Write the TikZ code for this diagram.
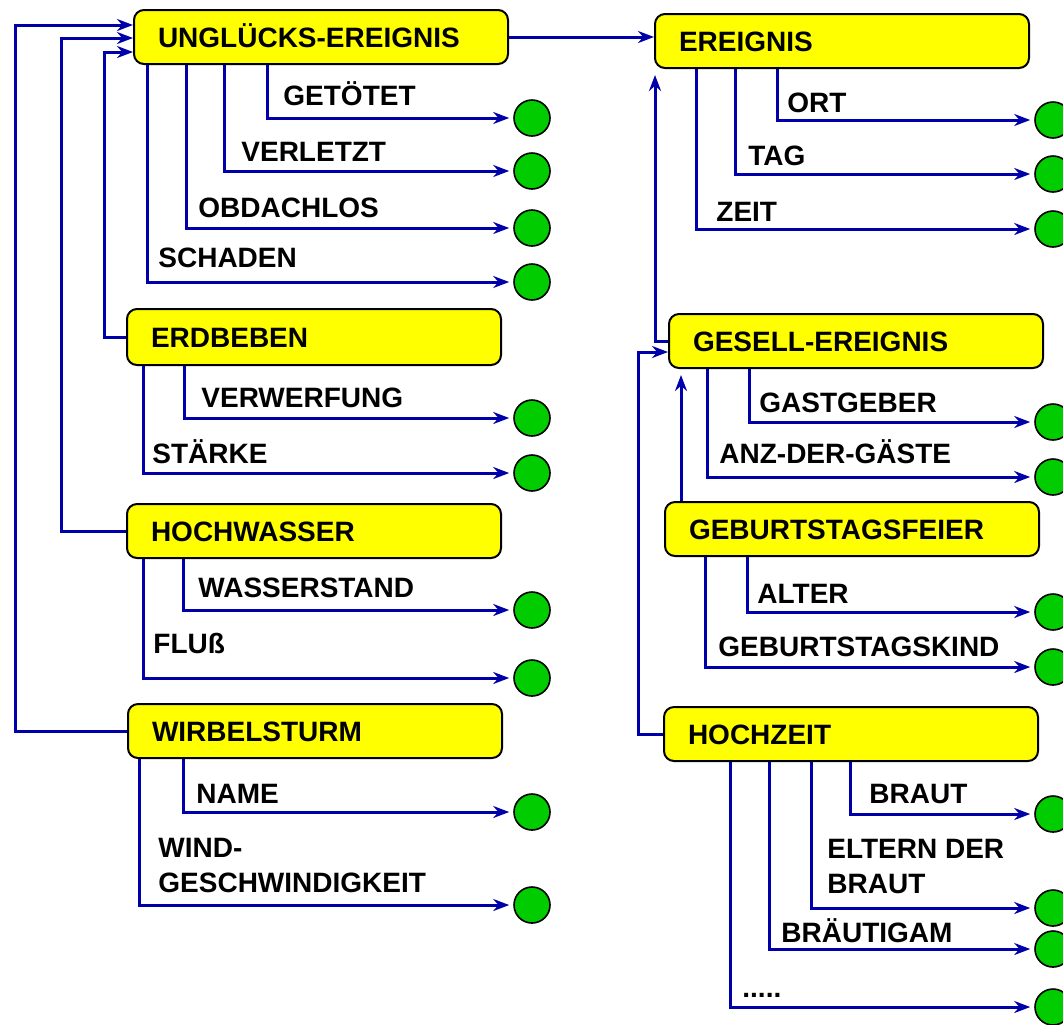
\documentclass[tikz,border=0pt]{standalone}
\usepackage{fontspec}
\setmainfont{Liberation Sans}
\usepackage{tikz}
\usetikzlibrary{arrows.meta,positioning,calc}
\definecolor{entyellow}{HTML}{FFFF00}
\definecolor{attgreen}{HTML}{00CC00}
\definecolor{lnkblue}{HTML}{0000AA}
\tikzset{
  ent/.style={draw, fill=entyellow, line width=1pt, rounded corners=5pt, anchor=north west,
    minimum width=187pt, minimum height=27pt, text width=163pt, inner xsep=12pt, align=left,
    text height=10pt, text depth=0pt, font=\bfseries\fontsize{14}{17.5}\selectfont},
  att/.style={draw, circle, fill=attgreen, line width=0.8pt, minimum size=18pt, inner sep=0pt},
  lbl/.style={anchor=base west, inner sep=0pt, align=left, font=\bfseries\fontsize{14}{17.5}\selectfont},
  lnk/.style={draw=lnkblue, line width=1.5pt, -{Stealth[length=8pt,width=6pt]}, shorten >=2pt},
  isa/.style={draw=lnkblue, line width=1.5pt, -{Stealth[length=8pt,width=6pt]}}
}
\begin{document}
\begin{tikzpicture}[x=0.5pt,y=-0.5pt]
\clip (0,0) rectangle (1063,1024);
% entity types
\node[ent, minimum height=27pt] (unglueck) at (133,9) {UNGLÜCKS-EREIGNIS};
\node[ent] (ereignis) at (654,13) {EREIGNIS};
\node[ent, minimum height=28pt] (erdbeben) at (126,308) {ERDBEBEN};
\node[ent] (hochwasser) at (126,503) {HOCHWASSER};
\node[ent] (wirbelsturm) at (127,703) {WIRBELSTURM};
\node[ent] (gesell) at (668,313) {GESELL-EREIGNIS};
\node[ent] (geburtstag) at (664,501) {GEBURTSTAGSFEIER};
\node[ent] (hochzeit) at (663,706) {HOCHZEIT};
% attribute values, left column
\node[att] (u1) at (532,118) {}; \node[att] (u2) at (532,171) {};
\node[att] (u3) at (532,228) {}; \node[att] (u4) at (532,282) {};
\node[att] (e1) at (532,418) {}; \node[att] (e2) at (532,473) {};
\node[att] (h1) at (532,610) {}; \node[att] (h2) at (532,678) {};
\node[att] (w1) at (532,812) {}; \node[att] (w2) at (532,905) {};
% attribute values, right column
\node[att] (r1) at (1053,120) {}; \node[att] (r2) at (1053,174) {}; \node[att] (r3) at (1053,229) {};
\node[att] (g1) at (1053,422) {}; \node[att] (g2) at (1053,477) {};
\node[att] (b1) at (1053,612) {}; \node[att] (b2) at (1053,667) {};
\node[att] (z1) at (1053,814) {}; \node[att] (z2) at (1053,908) {};
\node[att] (z3) at (1053,949) {}; \node[att] (z4) at (1053,1007) {};
% attribute names
\node[lbl] (l-getoetet) at (283,105) {GETÖTET};
\node[lbl] (l-verletzt) at (241,161) {VERLETZT};
\node[lbl] (l-obdach) at (198,217) {OBDACHLOS};
\node[lbl] (l-schaden) at (158,267) {SCHADEN};
\node[lbl] (l-verwerf) at (201,407) {VERWERFUNG};
\node[lbl] (l-staerke) at (152,463) {STÄRKE};
\node[lbl] (l-wstand) at (198,597) {WASSERSTAND};
\node[lbl] (l-fluss) at (153,653) {FLUß};
\node[lbl] (l-name) at (196,803) {NAME};
\node[lbl] (l-wind) at (158,892) {WIND-\\GESCHWINDIGKEIT};
\node[lbl] (l-ort) at (787,112) {ORT};
\node[lbl] (l-tag) at (748,165) {TAG};
\node[lbl] (l-zeit) at (716,221) {ZEIT};
\node[lbl] (l-gastgeber) at (759,412) {GASTGEBER};
\node[lbl] (l-anzahl) at (719,463) {ANZ-DER-GÄSTE};
\node[lbl] (l-alter) at (757,603) {ALTER};
\node[lbl] (l-kind) at (718,656) {GEBURTSTAGSKIND};
\node[lbl] (l-braut) at (869,803) {BRAUT};
\node[lbl] (l-eltern) at (827,893) {ELTERN DER\\BRAUT};
\node[lbl] (l-braeut) at (781,942) {BRÄUTIGAM};
\node[lbl] (l-mehr) at (742,997) {.....};
% attributes
\draw[lnk] ($(unglueck.south west)+(134,0)$) |- (u1);
\draw[lnk] ($(unglueck.south west)+(91,0)$) |- (u2);
\draw[lnk] ($(unglueck.south west)+(53,0)$) |- (u3);
\draw[lnk] ($(unglueck.south west)+(14,0)$) |- (u4);
\draw[lnk] ($(erdbeben.south west)+(58,0)$) |- (e1);
\draw[lnk] ($(erdbeben.south west)+(17,0)$) |- (e2);
\draw[lnk] ($(hochwasser.south west)+(57,0)$) |- (h1);
\draw[lnk] ($(hochwasser.south west)+(17,0)$) |- (h2);
\draw[lnk] ($(wirbelsturm.south west)+(56,0)$) |- (w1);
\draw[lnk] ($(wirbelsturm.south west)+(12,0)$) |- (w2);
\draw[lnk] ($(ereignis.south west)+(123,0)$) |- (r1);
\draw[lnk] ($(ereignis.south west)+(81,0)$) |- (r2);
\draw[lnk] ($(ereignis.south west)+(42,0)$) |- (r3);
\draw[lnk] ($(gesell.south west)+(81,0)$) |- (g1);
\draw[lnk] ($(gesell.south west)+(39,0)$) |- (g2);
\draw[lnk] ($(geburtstag.south west)+(83,0)$) |- (b1);
\draw[lnk] ($(geburtstag.south west)+(41,0)$) |- (b2);
\draw[lnk] ($(hochzeit.south west)+(187,0)$) |- (z1);
\draw[lnk] ($(hochzeit.south west)+(148,0)$) |- (z2);
\draw[lnk] ($(hochzeit.south west)+(106,0)$) |- (z3);
\draw[lnk] ($(hochzeit.south west)+(67,0)$) |- (z4);
% generalisation
\draw[isa] (wirbelsturm.west) -- ++(-112,0) |- ($(unglueck.west)+(0,-12)$);
\draw[isa] (hochwasser.west) -- ++(-65,0) |- ($(unglueck.west)+(0,1)$);
\draw[isa] (erdbeben.west) -- ++(-22,0) |- ($(unglueck.west)+(0,15)$);
\draw[isa] (unglueck.east) -- (unglueck.east -| ereignis.west);
\draw[isa] (gesell.west) -| ($(ereignis.south west)+(1,6)$);
\draw[isa] ($(geburtstag.north west)+(17,0)$) -- ($(gesell.south west)+(13,6)$);
\draw[isa] (hochzeit.west) -- ++(-25,0) |- ($(gesell.west)+(0,11)$);
\end{tikzpicture}
\end{document}
